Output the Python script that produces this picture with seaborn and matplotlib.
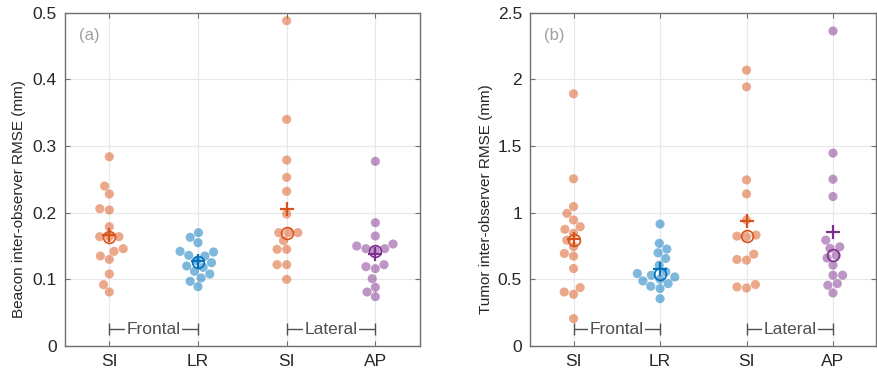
import numpy as np
import pandas as pd
import matplotlib
matplotlib.use("Agg")
import matplotlib.pyplot as plt
import seaborn as sns

# ---------------- data ----------------
groups = ["SI_frontal", "LR_frontal", "SI_lateral", "AP_lateral"]
tick_labels = ["SI", "LR", "SI", "AP"]

beacon_si_frontal = [0.284, 0.240, 0.228, 0.206, 0.204, 0.179, 0.164, 0.164, 0.164,
                     0.146, 0.142, 0.135, 0.130, 0.108, 0.092, 0.081]
beacon_lr_frontal = [0.170, 0.163, 0.155, 0.142, 0.141, 0.135, 0.136, 0.128, 0.125,
                     0.120, 0.118, 0.112, 0.108, 0.102, 0.097, 0.089]
beacon_si_lateral = [0.488, 0.340, 0.279, 0.253, 0.232, 0.198, 0.170, 0.170, 0.170,
                     0.158, 0.145, 0.145, 0.122, 0.122, 0.100]
beacon_ap_lateral = [0.277, 0.185, 0.165, 0.153, 0.146, 0.143, 0.146, 0.150, 0.122,
                     0.119, 0.116, 0.101, 0.088, 0.081, 0.074]

tumor_si_frontal = [1.892, 1.254, 1.046, 0.995, 0.945, 0.895, 0.875, 0.845, 0.794,
                    0.745, 0.694, 0.674, 0.581, 0.438, 0.405, 0.388, 0.205]
tumor_lr_frontal = [0.915, 0.770, 0.727, 0.699, 0.657, 0.606, 0.556, 0.544, 0.518,
                    0.531, 0.488, 0.501, 0.468, 0.448, 0.431, 0.355]
tumor_si_lateral = [2.069, 1.944, 1.246, 1.141, 0.945, 0.832, 0.820, 0.824, 0.689,
                    0.644, 0.649, 0.443, 0.435, 0.461]
tumor_ap_lateral = [2.363, 1.447, 1.251, 1.121, 0.794, 0.744, 0.732, 0.680, 0.660,
                    0.606, 0.531, 0.531, 0.468, 0.456, 0.398]

beacon_yticks = [0, 0.1, 0.2, 0.3, 0.4, 0.5]
tumor_yticks = [0, 0.5, 1, 1.5, 2, 2.5]

palette = {"SI_frontal": "#D95319", "LR_frontal": "#0072BD",
           "SI_lateral": "#D95319", "AP_lateral": "#7E2F8E"}


def make_df(series):
    rows = []
    for g, vals in zip(groups, series):
        for v in vals:
            rows.append((g, v))
    return pd.DataFrame(rows, columns=["group", "value"])


beacon_df = make_df([beacon_si_frontal, beacon_lr_frontal, beacon_si_lateral, beacon_ap_lateral])
tumor_df = make_df([tumor_si_frontal, tumor_lr_frontal, tumor_si_lateral, tumor_ap_lateral])

# ---------------- style ----------------
sns.set_style("white")
plt.rcParams["font.family"] = ["Liberation Sans", "DejaVu Sans"]

fig = plt.figure(figsize=(8.78, 3.8), dpi=100)
ax_a = fig.add_axes([0.074, 0.0895, 0.404, 0.877])
ax_b = fig.add_axes([0.604, 0.0895, 0.394, 0.877])

text_grey = "#262626"
spine_grey = "#707070"


def draw(ax, df, yticks, ylabel, panel, label_x):
    sns.swarmplot(data=df, x="group", y="value", hue="group", order=groups,
                  palette=palette, size=6.6, alpha=0.5, linewidth=0,
                  legend=False, ax=ax, zorder=3)
    stats = df.groupby("group")["value"].agg(["mean", "median"])
    for i, g in enumerate(groups):
        c = palette[g]
        ax.plot(i, stats.loc[g, "median"], marker="o", ms=8.5, mfc="none",
                mec=c, mew=1.2, zorder=5)
        ax.plot(i, stats.loc[g, "mean"], marker="+", ms=10, mec=c, mew=1.6, zorder=6)

    ax.set_xlim(-0.5, 3.5)
    ax.set_ylim(yticks[0], yticks[-1])
    ax.set_yticks(yticks)
    ax.set_yticklabels([f"{t:g}" for t in yticks])
    ax.set_xticks(range(len(groups)))
    ax.set_xticklabels(tick_labels)
    ax.set_xlabel("")
    ax.set_ylabel(ylabel, fontsize=11, color=text_grey)
    ax.yaxis.set_label_coords(label_x, 0.44)
    ax.grid(True, color="#e8e8e8", lw=0.9, zorder=0)
    ax.set_axisbelow(True)
    for s in ax.spines.values():
        s.set_color(spine_grey)
        s.set_linewidth(1.0)
        s.set_visible(True)
    ax.tick_params(axis="both", direction="in", length=3.5, color=spine_grey,
                   labelsize=12.5, labelcolor=text_grey, top=True, right=True,
                   left=True, bottom=True, pad=6)

    ax.text(0.04, 0.955, panel, transform=ax.transAxes, fontsize=12,
            color="#a0a0a0", va="top", ha="left")

    # Frontal / Lateral brackets
    tr = ax.get_xaxis_transform()
    yb = 0.05
    for (x0, x1, lab) in [(0, 1, "Frontal"), (2, 3, "Lateral")]:
        ax.plot([x0, x1], [yb, yb], transform=tr, color="#505050", lw=1.0,
                zorder=7, solid_capstyle="butt")
        ax.plot([x0, x1], [yb, yb], transform=tr, ls="none", marker="|", ms=8,
                mec="#505050", mew=1.0, zorder=7)
        ax.text((x0 + x1) / 2, yb, lab, transform=tr, ha="center", va="center",
                fontsize=12.5, color="#505050", zorder=8,
                bbox=dict(facecolor="white", edgecolor="none", pad=1.0))


draw(ax_a, beacon_df, beacon_yticks, "Beacon inter-observer RMSE (mm)", "(a)", -0.110)
draw(ax_b, tumor_df, tumor_yticks, "Tumor inter-observer RMSE (mm)", "(b)", -0.107)

fig.savefig("out.png", dpi=100)
